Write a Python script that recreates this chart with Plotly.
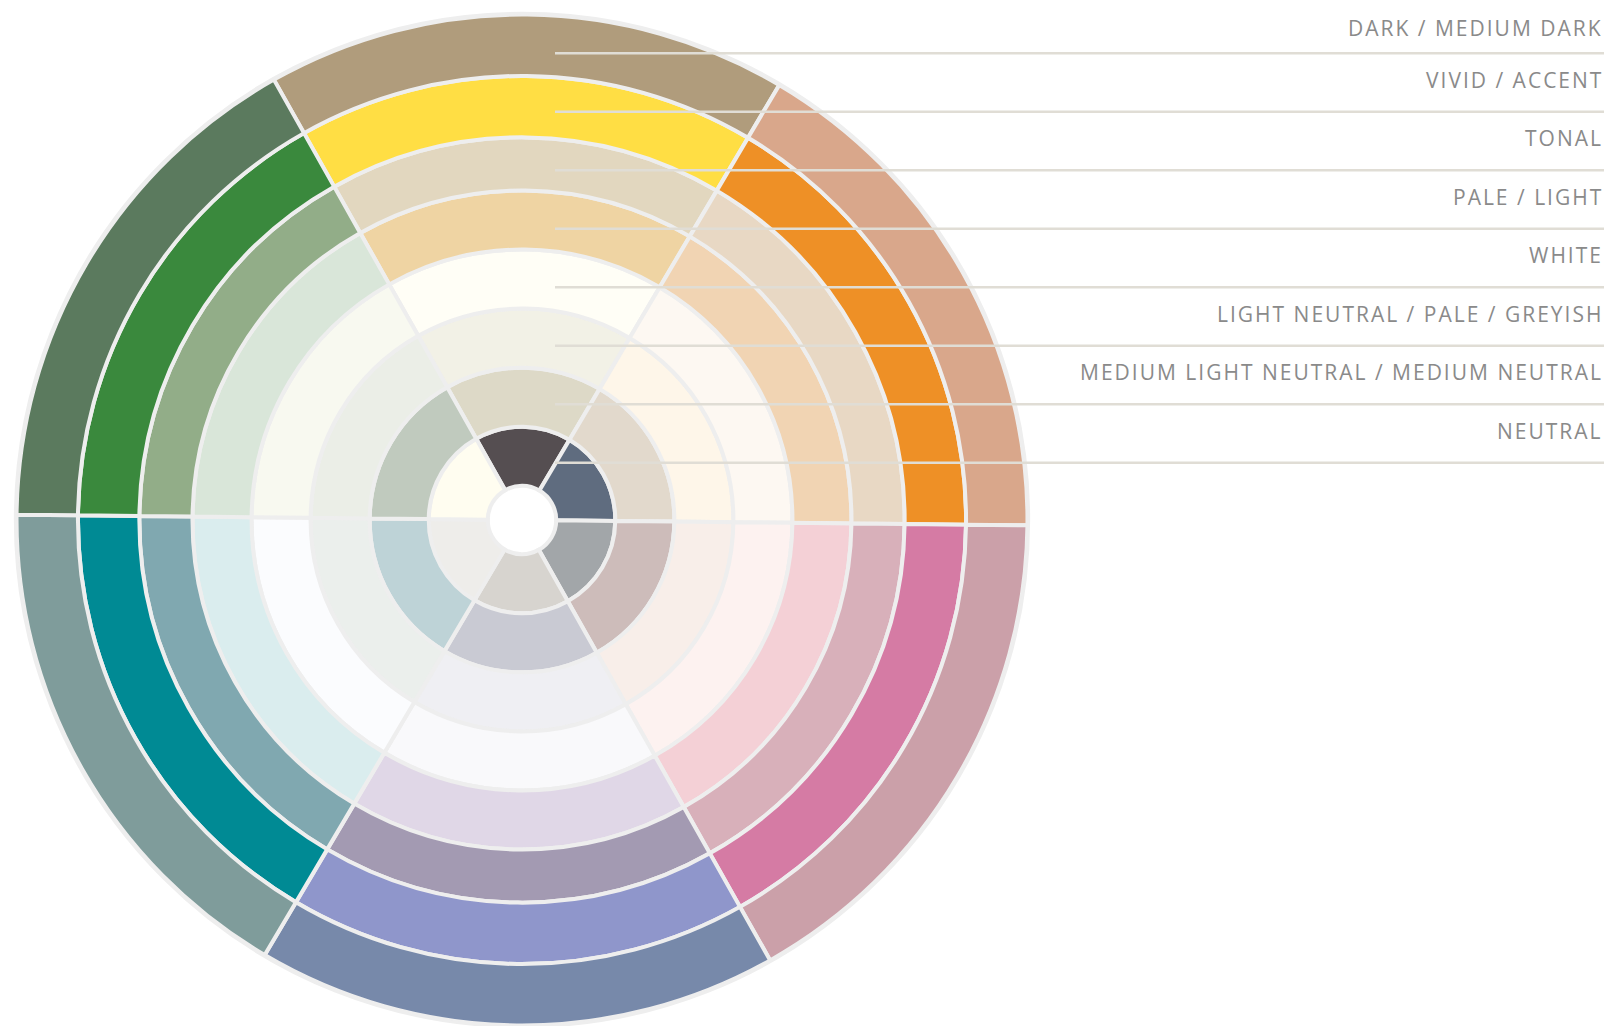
import plotly.graph_objects as go

# ---------------- data ----------------
# rings from the centre outwards
ring_names = [
    "NEUTRAL",
    "MEDIUM LIGHT NEUTRAL / MEDIUM NEUTRAL",
    "LIGHT NEUTRAL / PALE / GREYISH",
    "WHITE",
    "PALE / LIGHT",
    "TONAL",
    "VIVID / ACCENT",
    "DARK / MEDIUM DARK",
]
# six hue sectors (compass angle of sector centre, clockwise from top)
hue_angles = [0, 60, 120, 180, 240, 300]
sector_width = [60, 60, 60, 60, 60, 60]
hole_radius = 0.58                                   # empty centre (radial units)
ring_band = [1.0, 1.0, 1.0, 1.0, 1.0, 0.9, 1.04, 1.04]  # radial thickness of each ring

# colours per ring, sectors in the order of hue_angles
neutral_colors       = ["#554E51", "#5F6C7F", "#A2A6A9", "#D7D4CF", "#EEEDEA", "#FFFDF0"]
medium_colors        = ["#DDD9C7", "#E2D9CC", "#CDBCBA", "#C9CAD3", "#BED3D7", "#C0CABE"]
light_neutral_colors = ["#F2F1E6", "#FEF6E9", "#F8EEE9", "#EFEFF3", "#EBEFEC", "#EBEEE7"]
white_colors         = ["#FFFEF6", "#FDF8F2", "#FDF2F0", "#F9F9FB", "#FBFCFE", "#F8F9F0"]
pale_colors          = ["#EFD4A3", "#F1D4B3", "#F4D0D6", "#E0D7E7", "#DAEDEE", "#D9E6D9"]
tonal_colors         = ["#E2D7BF", "#E8D8C4", "#D8B0BA", "#A39AB2", "#80A8B0", "#92AD88"]
vivid_colors         = ["#FFDE44", "#EE9026", "#D57BA4", "#8F96CB", "#008A94", "#3A893D"]
dark_colors          = ["#B09C7C", "#D9A78B", "#CBA0A9", "#7789AA", "#7F9C9B", "#5B7A5E"]
ring_colors = [neutral_colors, medium_colors, light_neutral_colors, white_colors,
               pale_colors, tonal_colors, vivid_colors, dark_colors]

# ---------------- layout geometry ----------------
W, H = 1612, 1026
ppu = 59.05                # pixels per radial unit
cx, cy = 522, 520          # wheel centre in pixels (from top-left)
outer = sum(ring_band) + hole_radius
r_axis = min(outer + 0.01, (H - cy - 0.01) / ppu)
r_px = r_axis * ppu

SEP = "#EEEEEE"
LINE = "#E0DDD5"
TEXT = "#8A8A8A"

fig = go.Figure()

inner = hole_radius
for k, name in enumerate(ring_names):
    fig.add_trace(go.Barpolar(
        r=[ring_band[k]] * len(hue_angles),
        base=[inner] * len(hue_angles),
        theta=hue_angles,
        width=sector_width,
        marker=dict(color=ring_colors[k], line=dict(color=SEP, width=4)),
        name=name,
        hoverinfo="skip",
        showlegend=False,
    ))
    inner += ring_band[k]

# invisible cartesian trace so the overlay axes exist (axes in pixels from the top-left)
fig.add_trace(go.Scatter(x=[0], y=[0], mode="markers", marker=dict(opacity=0),
                         hoverinfo="skip", showlegend=False))

# outer rim of the wheel
rim = outer * ppu + 1.2
shapes = [dict(type="circle", xref="x", yref="y", layer="above",
               x0=cx - rim, x1=cx + rim, y0=cy - rim, y1=cy + rim,
               line=dict(color=SEP, width=3), fillcolor="rgba(0,0,0,0)")]

# legend list: leader lines evenly spaced, innermost ring at the bottom
first_line, line_step = 462.7, 58.5
annotations = []
for k, name in enumerate(ring_names):
    ly = first_line - k * line_step
    ty = max(ly - 32, 28.3)
    shapes.append(dict(type="line", xref="x", yref="y", layer="above",
                       x0=cx + 33, x1=1604, y0=ly, y1=ly,
                       line=dict(color=LINE, width=2.5)))
    annotations.append(dict(
        xref="x", yref="y", x=1605, y=ty, xanchor="right", yanchor="middle",
        text='<span style="letter-spacing:2px">' + name + '</span>',
        showarrow=False, font=dict(family="Open Sans", size=21, color=TEXT)))

dom_y0 = max(0.0, (H - cy - r_px) / H)
dom_y1 = min(1.0, (H - cy + r_px) / H)
fig.update_layout(
    width=W, height=H,
    margin=dict(l=0, r=0, t=0, b=0),
    paper_bgcolor="white", plot_bgcolor="rgba(0,0,0,0)",
    showlegend=False,
    polar=dict(
        domain=dict(x=[(cx - r_px) / W, (cx + r_px) / W], y=[dom_y0, dom_y1]),
        bgcolor="white",
        barmode="overlay",
        bargap=0,
        radialaxis=dict(range=[0, r_axis], visible=False, showgrid=False),
        angularaxis=dict(direction="clockwise", rotation=89.4, visible=False, showgrid=False),
    ),
    xaxis=dict(domain=[0, 1], range=[0, W], visible=False, fixedrange=True),
    yaxis=dict(domain=[0, 1], range=[H, 0], visible=False, fixedrange=True),
    shapes=shapes,
    annotations=annotations,
)

fig.write_html(
    "out.html",
    config={"displayModeBar": False},
    post_script="document.body.style.margin='0';document.body.style.overflow='hidden';",
)
